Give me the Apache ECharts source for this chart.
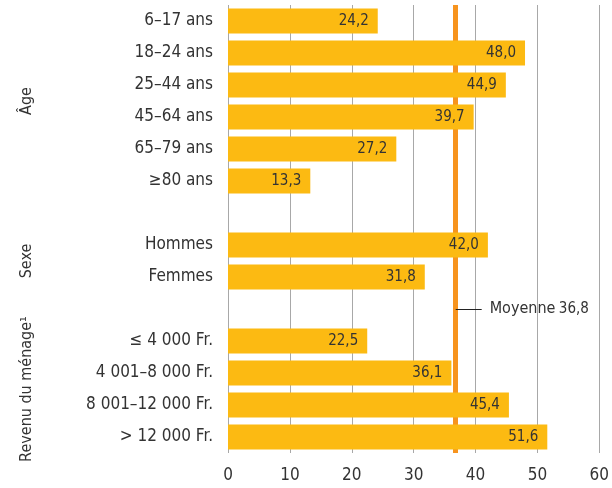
<!DOCTYPE html>
<html>
<head>
<meta charset="utf-8">
<script src="https://cdn.jsdelivr.net/npm/echarts@6/dist/echarts.min.js"></script>
<style>html,body{margin:0;padding:0;background:#fff}#c{width:612px;height:488px}</style>
</head>
<body>
<div id="c"></div>
<script>
var categories = ['6–17 ans','18–24 ans','25–44 ans','45–64 ans','65–79 ans','≥80 ans',' ',
  'Hommes','Femmes','  ','≤ 4 000 Fr.','4 001–8 000 Fr.','8 001–12 000 Fr.','> 12 000 Fr.'];
var values = [24.2,48.0,44.9,39.7,27.2,13.3,null,42.0,31.8,null,22.5,36.1,45.4,51.6];
var meanValue = 36.8;
var meanLabelEnd = 41;
var xTicks = [0,10,20,30,40,50,60];
var groups = [
  {name:'Âge', first:0, last:5},
  {name:'Sexe', first:7, last:8},
  {name:'Revenu du ménage¹', first:10, last:13}
];
var FONT = '"DejaVu Sans Condensed","Liberation Sans",Arial,sans-serif';
var TXT = '#333333';

var chart = echarts.init(document.getElementById('c'));
var option = {
  animation:false,
  textStyle:{fontFamily:FONT},
  grid:{left:228,right:11,top:5,bottom:35,containLabel:false},
  xAxis:{type:'value',min:xTicks[0],max:xTicks[xTicks.length-1],interval:10,
    axisLine:{show:false},axisTick:{show:false},
    axisLabel:{color:TXT,fontSize:17,fontFamily:FONT,margin:14,
      formatter:function(v){return xTicks.indexOf(v)>=0?String(v):'';}},
    splitLine:{show:true,lineStyle:{color:'#a8a8a8',width:1}}},
  yAxis:{type:'category',data:categories,inverse:true,
    axisLine:{show:false},axisTick:{show:false},
    axisLabel:{color:TXT,fontSize:17,fontFamily:FONT,margin:15}},
  series:[{
    type:'scatter',data:[],z:1,silent:true,
    markLine:{silent:true,symbol:'none',animation:false,z:1,
      lineStyle:{color:'#F7941E',width:5,type:'solid'},label:{show:false},
      data:[{xAxis:meanValue}]}
  },{
    type:'bar',data:values,barCategoryGap:'22%',z:3,
    itemStyle:{color:'#FCBA12'},
    label:{show:true,position:'insideRight',distance:9,color:TXT,fontSize:15,fontFamily:FONT,
      formatter:function(p){return p.value==null?'':p.value.toFixed(1).replace('.',',');}},
    markLine:{silent:true,symbol:'none',animation:false,
      data:[
        [{coord:[meanValue,9],lineStyle:{color:'#222',width:1,type:'solid'},
          label:{show:true,position:'end',distance:8,
            formatter:'{a|Moyenne} {b|'+meanValue.toFixed(1).replace('.',',')+'}',
            rich:{a:{fontSize:16,color:TXT,fontFamily:FONT},b:{fontSize:15,color:TXT,fontFamily:FONT}}}},
         {coord:[meanLabelEnd,9]}]
      ]}
  }]
};
chart.setOption(option);

var g = groups.map(function(gr){
  var y1 = chart.convertToPixel({yAxisIndex:0},gr.first);
  var y2 = chart.convertToPixel({yAxisIndex:0},gr.last);
  return {type:'text',x:27,y:(y1+y2)/2,rotation:Math.PI/2,
    style:{text:gr.name,fill:TXT,font:'16px '+FONT,align:'center',verticalAlign:'middle'}};
});
chart.setOption({graphic:{elements:g}});
</script>
</body>
</html>
